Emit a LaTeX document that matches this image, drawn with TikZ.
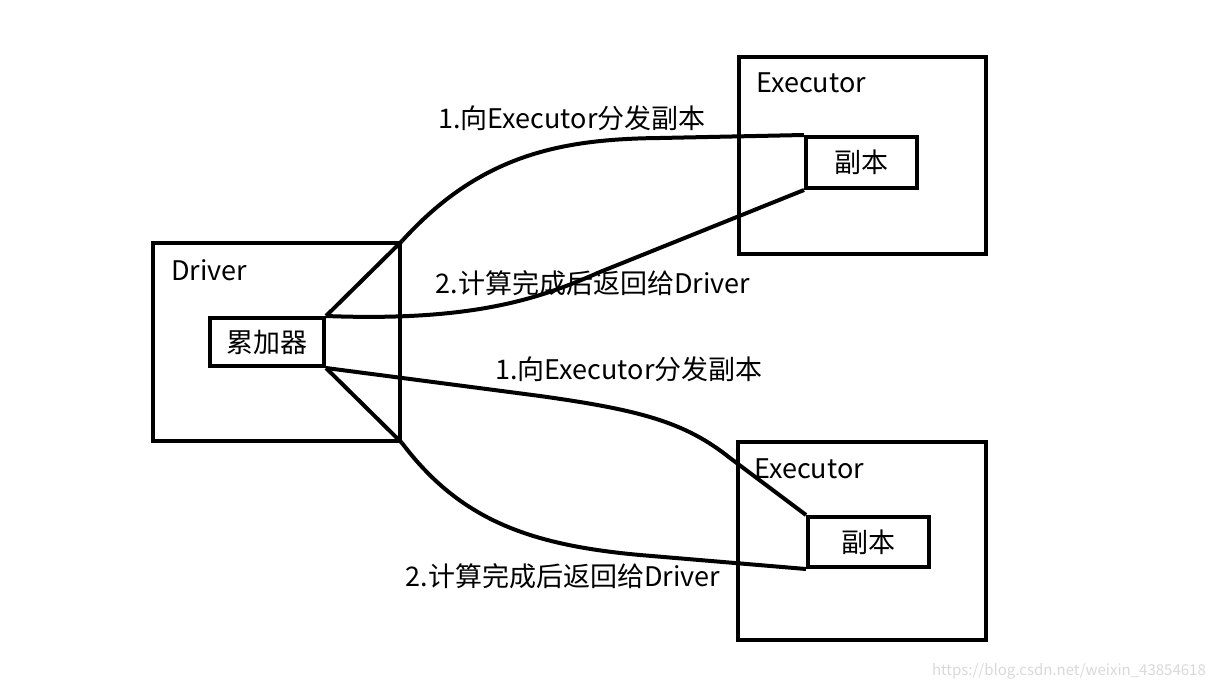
\documentclass[tikz,border=0pt]{standalone}
\usepackage{fontspec}
\setmainfont{Noto Sans CJK SC}
\usepackage{tikz}
\usetikzlibrary{positioning}

\begin{document}
\begin{tikzpicture}[x=1pt, y=-1pt,
		box/.style={draw, line width=4pt, inner sep=0pt, font=\fontsize{27}{32}\selectfont},
		txt/.style={inner sep=0pt, font=\fontsize{27}{32}\selectfont},
		wire/.style={line width=4pt, line join=round}]
		\useasboundingbox (0,0) rectangle (1215,690);
		
		% Driver
		\node[box, minimum width=247, minimum height=198] (drv) at (276.5,342) {};
		\node[txt, anchor=west] (drvname) at (171,270) {Driver};
		\node[box, minimum width=114, minimum height=48] (acc) at (267,342) {累加器};
		
		% Executoren
		\node[box, minimum width=247, minimum height=197] (exa) at (862.5,155.5) {};
		\node[txt, anchor=west] (exaname) at (756,83) {Executor};
		\node[box, minimum width=111, minimum height=51] (repa) at (861.5,162.5) {副本};
		
		\node[box, minimum width=248, minimum height=198] (exb) at (862,541) {};
		\node[txt, anchor=west] (exbname) at (754,469) {Executor};
		\node[box, minimum width=121, minimum height=50] (repb) at (868.5,542) {副本};
		
		% Verbindungen
		\draw[wire] (drv.north east) -- (acc.north east);
		\draw[wire] (drv.south east) -- (acc.south east);
		\draw[wire] (drv.north east) .. controls (480,155) and (560,139) .. (660,138) -- (repa.north west);
		\draw[wire] (acc.north east) .. controls (480,322) and (545,296) .. (600,272) -- (repa.south west);
		\draw[wire] (acc.south east) -- (540,396) .. controls (640,410) and (685,422) .. (730,458) -- (repb.north west);
		\draw[wire] (drv.south east) .. controls (460,520) and (530,545) .. (640,555) -- (repb.south west);
		
		% Beschriftungen
		\node[txt] (senda) at (572,118) {1.向Executor分发副本};
		\node[txt] (backa) at (593,283) {2.计算完成后返回给Driver};
		\node[txt] (sendb) at (629,369) {1.向Executor分发副本};
		\node[txt] (backb) at (563,576) {2.计算完成后返回给Driver};
		\node[inner sep=0pt, anchor=east, text=gray!30, font=\fontsize{15}{18}\selectfont] (url) at (1206,671) {https://blog.csdn.net/weixin\_43854618};
	\end{tikzpicture}
\end{document}
